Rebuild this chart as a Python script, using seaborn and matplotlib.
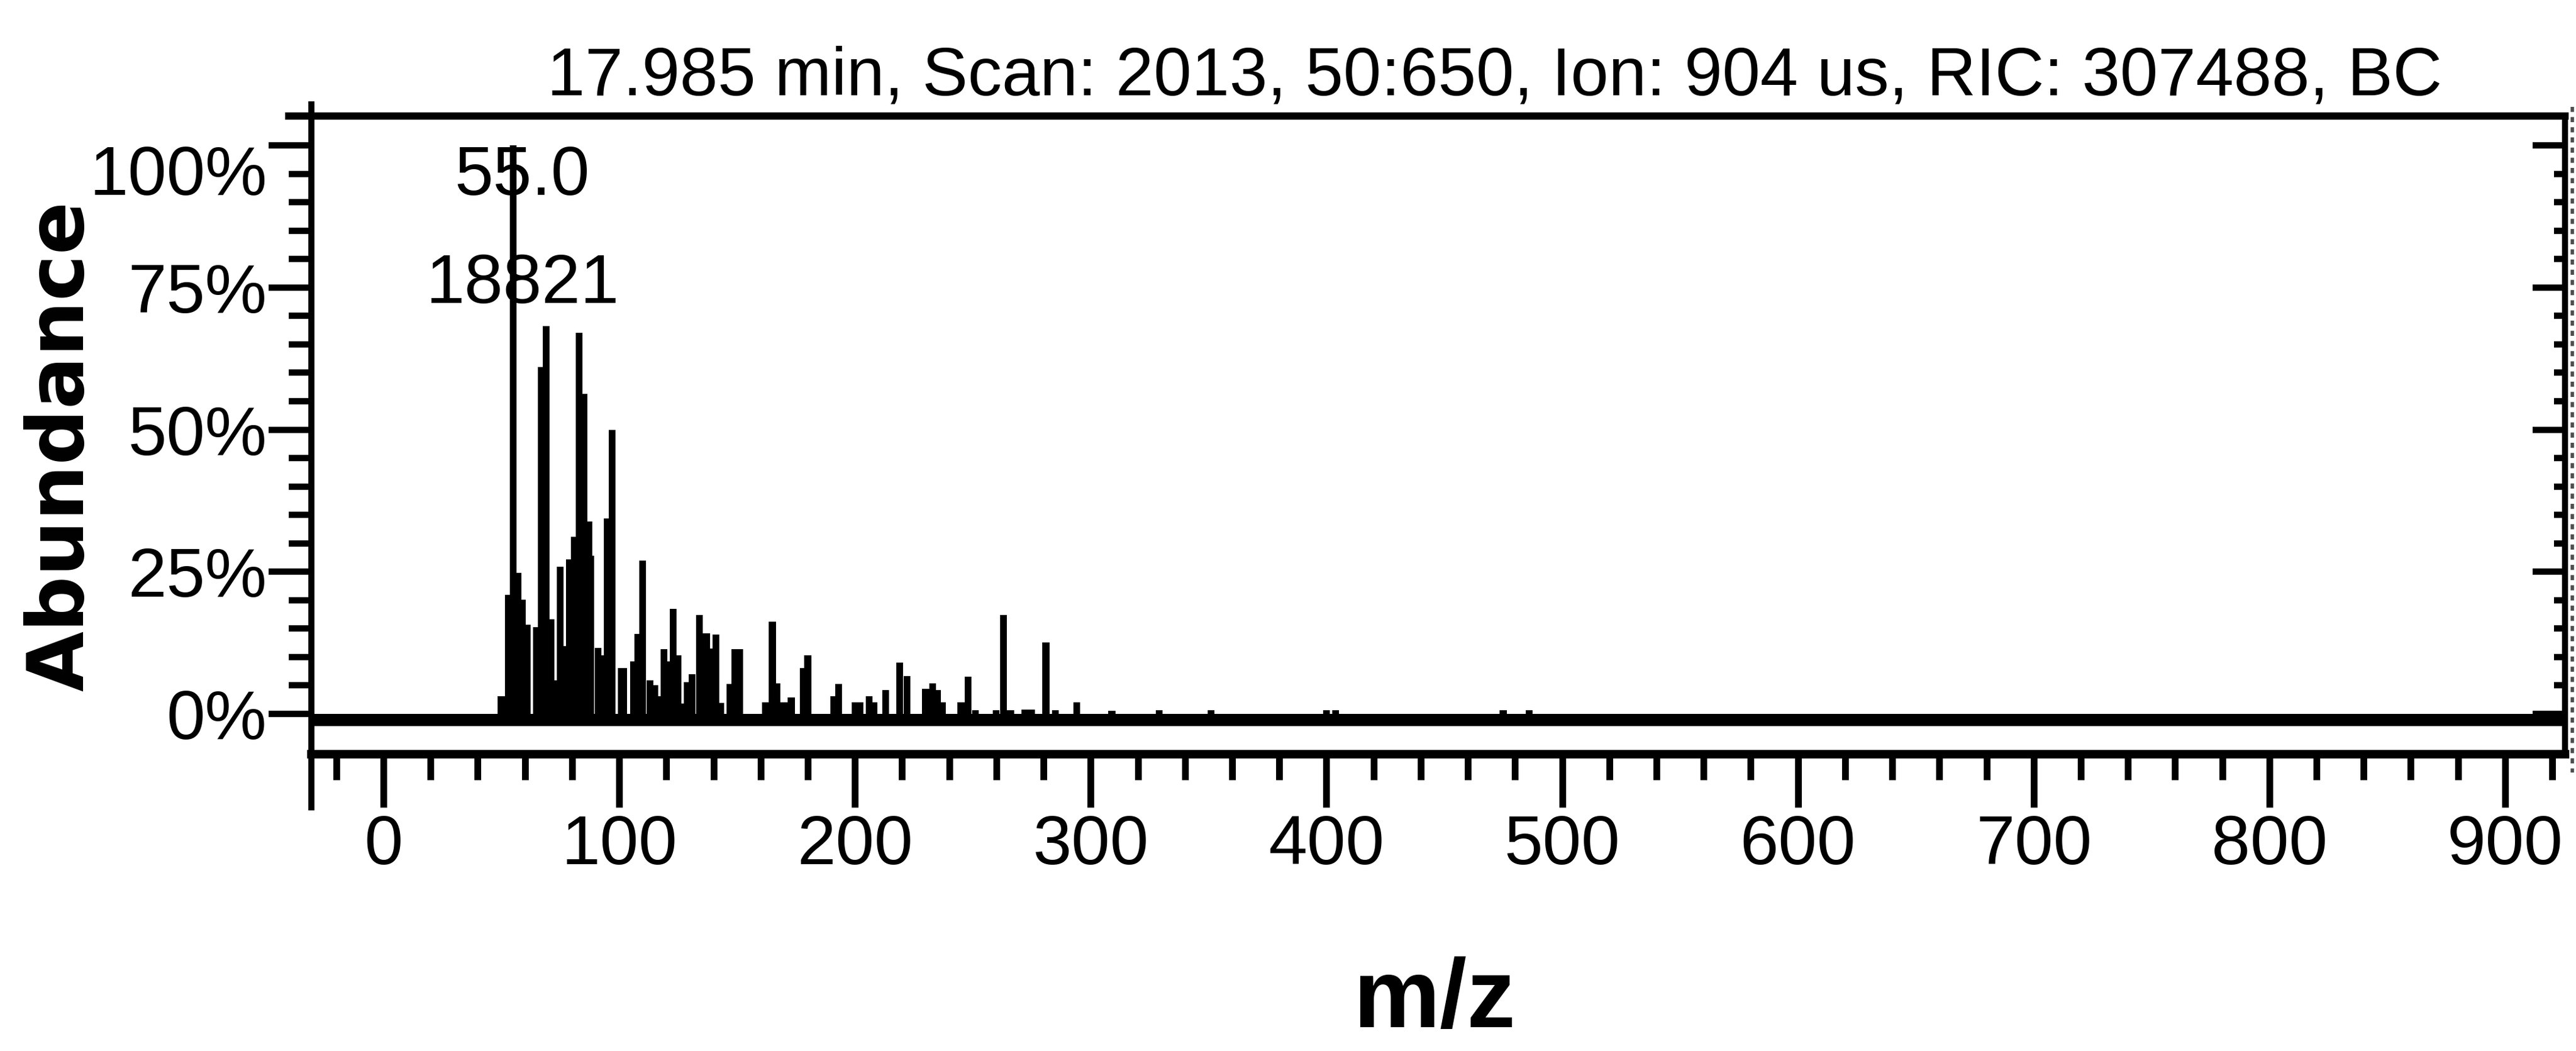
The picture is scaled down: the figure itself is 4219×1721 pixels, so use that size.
import matplotlib
matplotlib.use("Agg")
import matplotlib.pyplot as plt
from matplotlib import font_manager
from matplotlib.lines import Line2D
from matplotlib.transforms import ScaledTranslation
import pandas as pd
import seaborn as sns

# ---- spectrum header -------------------------------------------------------
TITLE = "17.985 min, Scan: 2013, 50:650, Ion: 904 us, RIC: 307488, BC"
BASE_PEAK_MZ = 55.0
BASE_PEAK_COUNTS = 18821

# ---- mass spectrum: m/z and relative abundance (%) -------------------------
MZ = [50, 53, 55, 57, 59, 61, 65, 67, 69, 71, 73, 75, 77, 79, 81, 83, 85, 87,
      88, 91, 93, 95, 97, 101, 102, 106, 108, 110, 113, 115, 117, 119, 121,
      123, 125, 127, 129, 131, 134, 137, 139, 141, 143, 147, 149, 151, 162,
      165, 167, 169, 171, 173, 178, 180, 191, 193, 200, 202, 206, 208, 213,
      219, 222, 230, 233, 235, 237, 245, 248, 251, 260, 263, 266, 272, 275,
      281, 285, 294, 309, 329, 351, 400, 404, 475, 486]
ABUNDANCE = [3.1, 20.9, 100.0, 24.8, 20.1, 15.7, 15.2, 61.0, 68.2, 16.6, 5.9,
             25.9, 11.9, 27.2, 31.1, 67.0, 56.3, 33.8, 27.8, 11.6, 10.3, 34.4,
             50.0, 8.1, 8.1, 9.2, 14.1, 27.0, 5.9, 5.0, 3.1, 11.4, 9.2, 18.5,
             10.3, 1.8, 5.6, 7.0, 17.4, 14.2, 11.5, 14.0, 1.9, 5.3, 11.4, 11.4,
             2.0, 16.2, 5.4, 2.0, 2.0, 2.9, 8.1, 10.3, 3.1, 5.3, 2.0, 2.0, 3.1,
             2.0, 4.2, 9.0, 6.7, 4.4, 5.4, 4.2, 2.0, 2.0, 6.5, 0.6, 0.6, 17.4,
             0.6, 0.8, 0.8, 12.6, 0.6, 2.0, 0.5, 0.6, 0.6, 0.6, 0.6, 0.6, 0.6]

# ---- axes ------------------------------------------------------------------
X_MAJOR = list(range(0, 901, 100))
X_MINOR = list(range(-20, 921, 20))
Y_MAJOR = [0, 25, 50, 75, 100]
Y_MAJOR_LABELS = ["0%", "25%", "50%", "75%", "100%"]
Y_MINOR = list(range(0, 101, 5))
XLIM = (-30.56, 925.4)
YLIM = (-7.09, 105.16)

W, H, DPI = 4219, 1721, 100

sns.set_theme(style="white")
_fonts = {f.name for f in font_manager.fontManager.ttflist}
if "Liberation Sans Narrow" in _fonts:
    NARROW, SCALE = "Liberation Sans Narrow", 1.0
else:
    NARROW, SCALE = "Liberation Sans", 0.82
plt.rcParams["font.family"] = [NARROW, "DejaVu Sans"]
TICK_PT = 100 * SCALE
TITLE_PT = 98 * SCALE
XLABEL_PT = 140 * SCALE

fig = plt.figure(figsize=(W / DPI, H / DPI), dpi=DPI, facecolor="white")
left_px, right_px, top_px, bottom_px = 510, 4201, 190, 1235
ax = fig.add_axes([left_px / W, 1 - bottom_px / H,
                   (right_px - left_px) / W, (bottom_px - top_px) / H])
ax.set_facecolor("white")

df = pd.DataFrame({"mz": MZ, "abundance": ABUNDANCE})
sns.barplot(data=df, x="mz", y="abundance", native_scale=True, width=2.9,
            color="black", saturation=1, errorbar=None, orient="x",
            linewidth=0, ax=ax)

# detector baseline strip under the sticks
ax.axhspan(-2.1, 0.0, color="black", lw=0, zorder=1)

ax.set_xlim(*XLIM)
ax.set_ylim(*YLIM)
ax.set_xlabel("")
ax.set_ylabel("")

for side, lw in {"left": 7.2, "right": 7.2, "top": 8.6, "bottom": 10}.items():
    sp = ax.spines[side]
    sp.set_visible(True)
    sp.set_linewidth(lw)
    sp.set_color("black")
ax.spines["left"].set_bounds(-16.4, 107.2)
ax.spines["top"].set_bounds(-40.1, XLIM[1])

ax.set_xticks(X_MAJOR)
ax.set_xticklabels([str(v) for v in X_MAJOR])
ax.set_xticks(X_MINOR, minor=True)
ax.set_yticks(Y_MAJOR)
ax.set_yticklabels(Y_MAJOR_LABELS)
ax.set_yticks(Y_MINOR, minor=True)

ax.tick_params(axis="x", which="major", direction="out", length=62.6, width=8,
               pad=8, labelsize=TICK_PT, bottom=True, top=False,
               colors="black")
ax.tick_params(axis="x", which="minor", direction="out", length=30, width=8,
               bottom=True, top=False, colors="black")
ax.tick_params(axis="y", which="major", direction="out", length=50.4,
               width=7.5, pad=2, labelsize=TICK_PT, left=True, right=False,
               colors="black")
ax.tick_params(axis="y", which="minor", direction="out", length=26.6,
               width=7.5, left=True, right=False, colors="black")

# inward ticks along the right edge
twin = ax.twinx()
twin.set_ylim(*YLIM)
twin.set_yticks(Y_MAJOR)
twin.set_yticks(Y_MINOR, minor=True)
twin.tick_params(axis="y", which="major", direction="in", length=38, width=7.5,
                 right=True, left=False, labelright=False, colors="black")
twin.tick_params(axis="y", which="minor", direction="in", length=13, width=7.5,
                 right=True, left=False, colors="black")
for sp in twin.spines.values():
    sp.set_visible(False)

# base peak annotation
base_abund = ABUNDANCE[MZ.index(int(BASE_PEAK_MZ))]
for text, dy in ((f"{BASE_PEAK_MZ:.1f}", -40), (f"{BASE_PEAK_COUNTS}", -217)):
    ax.annotate(text, xy=(BASE_PEAK_MZ, base_abund), xytext=(15, dy),
                textcoords="offset pixels", ha="center", va="center_baseline",
                fontsize=TICK_PT, color="black", zorder=5)

fig.text(2448 / W, 1 - 155 / H, TITLE, ha="center", va="baseline",
         fontsize=TITLE_PT, color="black")
fig.text(101 / W, 1 - 730 / H, "Abundance", rotation=90, ha="center",
         va="center", family="DejaVu Sans", fontweight="bold", fontsize=92,
         color="black")
fig.text(2349 / W, 1 - 1682 / H, "m/z", ha="center", va="baseline",
         fontweight="bold", fontsize=XLABEL_PT, color="black")

# scanner edge line along the right border
fig.add_artist(Line2D([4213 / W, 4213 / W], [1 - 175 / H, 1 - 1265 / H],
                      transform=fig.transFigure, color="0.3", lw=4,
                      linestyle=(0, (1.5, 1.5))))

# top label sits a little lower than its tick
for lab in ax.get_yticklabels():
    if lab.get_text() == "100%":
        lab.set_transform(lab.get_transform()
                          + ScaledTranslation(0, -40 / DPI, fig.dpi_scale_trans))

fig.savefig("out.png", dpi=DPI, facecolor="white")
